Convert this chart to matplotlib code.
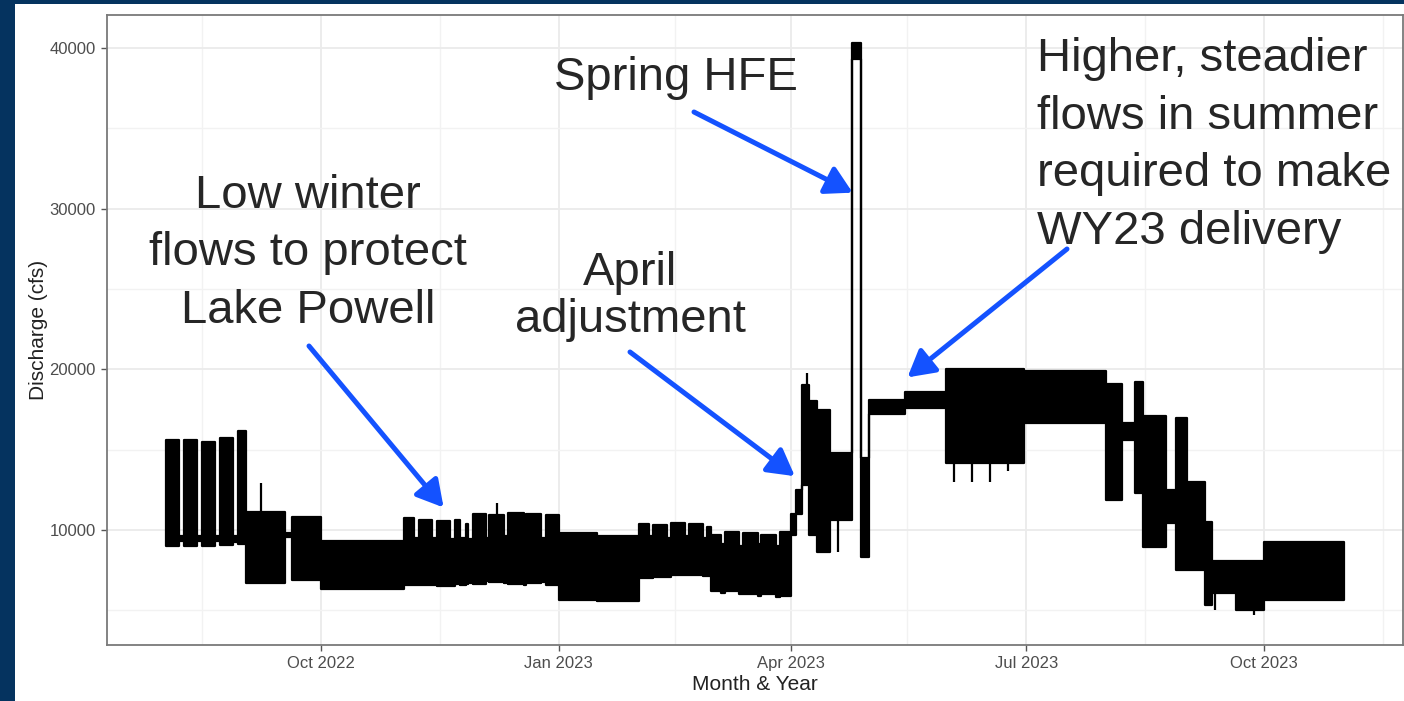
import numpy as np
import pandas as pd
import matplotlib
matplotlib.use("Agg")
import matplotlib.pyplot as plt
import matplotlib.dates as mdates
from matplotlib.patches import Rectangle

plt.rcParams['font.family'] = ['Liberation Sans', 'DejaVu Sans']

# hourly release swings summarised as blocks: start of period, daily low, daily high (cfs)
block_start = [
    # Aug-Sep 2022: weekday peaking, flat weekends
    "2022-08-02", "2022-08-07", "2022-08-09", "2022-08-14", "2022-08-16",
    "2022-08-21", "2022-08-23", "2022-08-28", "2022-08-30", "2022-09-02",
    "2022-09-17", "2022-09-20",
    # Oct-Dec 2022
    "2022-10-01", "2022-11-02", "2022-11-06", "2022-11-08", "2022-11-13",
    "2022-11-15", "2022-11-20", "2022-11-22", "2022-11-24", "2022-11-26",
    "2022-11-27", "2022-11-29", "2022-12-04", "2022-12-05", "2022-12-11",
    "2022-12-12 12:00", "2022-12-18 12:00", "2022-12-19 12:00", "2022-12-25", "2022-12-27",
    # Jan-Mar 2023
    "2023-01-01", "2023-01-16", "2023-02-01", "2023-02-05", "2023-02-06 12:00",
    "2023-02-12", "2023-02-13 12:00", "2023-02-19", "2023-02-20 12:00", "2023-02-26",
    "2023-02-27 12:00", "2023-03-01", "2023-03-05", "2023-03-06 12:00", "2023-03-12",
    "2023-03-13 12:00", "2023-03-19", "2023-03-20 12:00", "2023-03-26", "2023-03-27 12:00",
    # April adjustment and HFE
    "2023-04-01", "2023-04-03", "2023-04-05", "2023-04-08", "2023-04-11",
    "2023-04-16", "2023-04-24 10:00", "2023-04-27 22:00",
    # summer
    "2023-05-01", "2023-05-15", "2023-05-31", "2023-06-30", "2023-08-01",
    "2023-08-07", "2023-08-12", "2023-08-15", "2023-08-24", "2023-08-28",
    "2023-09-01", "2023-09-08", "2023-09-11", "2023-09-20", "2023-10-01",
]
block_low = [
    9000, 9300, 9000, 9300, 9000,
    9300, 9050, 9250, 9100, 6700,
    9550, 6900,
    6300, 6600, 6600, 6550, 6550,
    6500, 6500, 6650, 6600, 6650,
    6700, 6650, 6800, 6750, 6700,
    6650, 6600, 6700, 6750, 6600,
    5650, 5600, 7000, 7000, 7100,
    7100, 7200, 7200, 7200, 7150,
    7150, 6200, 6100, 6200, 6000,
    6000, 5900, 6000, 5850, 5900,
    9700, 11000, 12800, 9700, 8600,
    10600, 39300, 8300,
    17200, 17600, 14200, 16650, 11850,
    15600, 12300, 8950, 10450, 7500,
    7500, 5300, 6100, 5000, 5650,
]
block_high = [
    15600, 9650, 15600, 9600, 15500,
    9600, 15700, 9600, 16150, 11100,
    9800, 10800,
    9300, 10750, 9500, 10650, 9500,
    10550, 9450, 10600, 9500, 10400,
    9450, 11000, 9500, 10950, 9600,
    11050, 9500, 11000, 9500, 10950,
    9800, 9650, 10400, 9600, 10300,
    9500, 10450, 9600, 10400, 9500,
    10200, 9700, 9100, 9900, 9000,
    9800, 9100, 9700, 9000, 9900,
    11000, 12500, 19000, 18000, 17500,
    14800, 40300, 14500,
    18100, 18600, 20000, 19900, 19100,
    16650, 19200, 17100, 12500, 17000,
    13000, 10500, 8100, 8100, 9250,
]
series_end = "2023-11-01"

# single-hour excursions beyond the block edges
spike_date = ["2022-09-08", "2022-12-08", "2023-04-07", "2023-04-19", "2023-06-03",
              "2023-06-10", "2023-06-17", "2023-06-24", "2023-09-12", "2023-09-27"]
spike_from = [11000, 10950, 18900, 10600, 14200, 14200, 14200, 14200, 6100, 5000]
spike_to = [12900, 11700, 19800, 8600, 13000, 13000, 13000, 13700, 5000, 4700]

major_dates = ["2022-10-01", "2023-01-01", "2023-04-01", "2023-07-01", "2023-10-01"]
minor_dates = ["2022-08-16", "2022-11-16", "2023-02-15", "2023-05-16", "2023-08-16", "2023-11-16"]
y_major = [10000, 20000, 30000, 40000]
y_minor = [5000, 15000, 25000, 35000]

# callouts
note_text = [
    "Spring HFE",
    "Low winter\nflows to protect\nLake Powell",
    "April\nadjustment",
    "Higher, steadier\nflows in summer\nrequired to make\nWY23 delivery",
]
tip_date = ["2023-04-24 19:00", "2022-11-17 12:00", "2023-04-02 10:00", "2023-05-16"]
tip_value = [31000, 11400, 13350, 19500]

navy = "#05335f"
blue = "#1452ff"
W, H = 1404, 701

fig = plt.figure(figsize=(W / 100, H / 100), dpi=100, facecolor=navy)
fig.add_artist(Rectangle((15 / W, 0), 1, 1 - 4 / H, transform=fig.transFigure,
                         facecolor="white", edgecolor="none", zorder=-5))
ax = fig.add_axes([107 / W, 56 / H, 1296 / W, 630 / H])

t = pd.to_datetime(block_start + [series_end], format="ISO8601")
lo = np.array(block_low + [block_low[-1]])
hi = np.array(block_high + [block_high[-1]])
ax.fill_between(t, lo, hi, step="post", facecolor="black", edgecolor="black",
                linewidth=1.6, zorder=3)
ax.vlines(pd.to_datetime(spike_date), spike_from, spike_to, color="black", lw=1.6, zorder=3)

ax.set_xlim(pd.Timestamp("2022-07-10 06:00"), pd.Timestamp("2023-11-23 18:00"))
ax.set_ylim(2840, 42060)

ax.set_xticks(pd.to_datetime(major_dates))
ax.set_xticks(pd.to_datetime(minor_dates), minor=True)
ax.xaxis.set_major_formatter(mdates.DateFormatter("%b %Y"))
ax.set_yticks(y_major)
ax.set_yticks(y_minor, minor=True)
ax.grid(True, which="major", color="#ebebeb", lw=1.3, zorder=0)
ax.grid(True, which="minor", color="#f2f2f2", lw=1.0, zorder=0)
ax.tick_params(which="major", length=4, width=1.0, color="#555555",
               labelsize=12, labelcolor="#4d4d4d", pad=4)
ax.tick_params(which="minor", length=0)
for s in ax.spines.values():
    s.set_color("#7a7a7a")
    s.set_linewidth(1.3)

ax.set_xlabel("Month & Year", fontsize=15, color="#222222", labelpad=3)
ax.set_ylabel("Discharge (cfs)", fontsize=15, color="#222222", labelpad=1)

# callout text: anchor at the baseline of the last line (pixels from top-left), arrow tails
text_px = [(676, 90), (308, 323), (630, 332), (1037, 244)]
text_ha = ["center", "center", "center", "left"]
text_ls = [1.2, 1.4, 1.1, 1.4]
tail_px = [(694, 112), (309, 346), (630, 352), (1067, 249)]

for txt, (px, py), ha, ls in zip(note_text, text_px, text_ha, text_ls):
    fig.text(px / W, 1 - py / H, txt, ha=ha, va="baseline", fontsize=34,
             color="#262626", linespacing=ls, multialignment=ha)

for d, v, (px, py) in zip(tip_date, tip_value, tail_px):
    ax.annotate("", xy=(pd.Timestamp(d), v), xycoords="data",
                xytext=(px / W, 1 - py / H), textcoords="figure fraction",
                arrowprops=dict(arrowstyle="-|>,head_length=0.8,head_width=0.45",
                                mutation_scale=20, lw=3.6, color=blue,
                                shrinkA=0, shrinkB=0), zorder=5)

fig.savefig("out.png", dpi=100, facecolor=fig.get_facecolor())
